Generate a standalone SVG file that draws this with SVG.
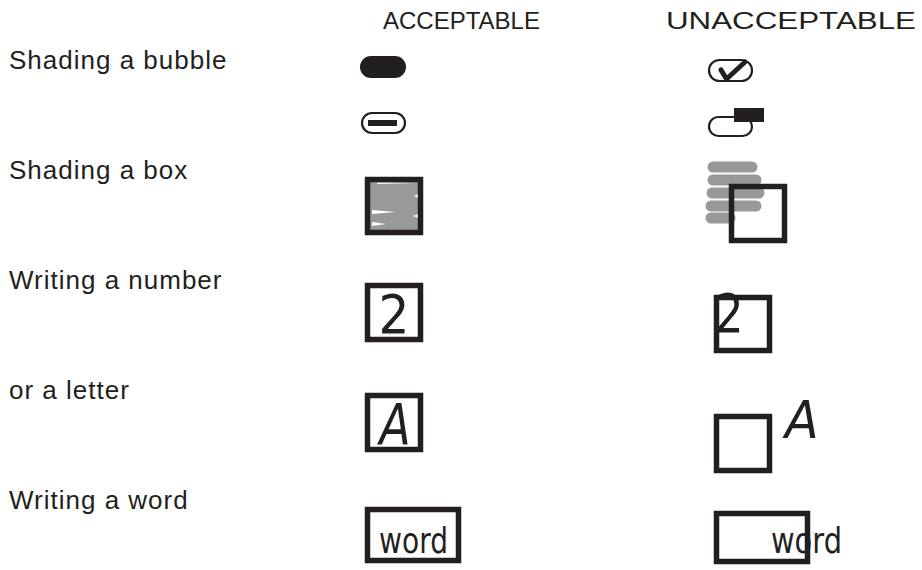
<svg xmlns="http://www.w3.org/2000/svg" width="922" height="570" viewBox="0 0 922 570">
<style>
.lbl{font-family:"Liberation Sans",Arial,sans-serif;font-size:26px;fill:#231f20;letter-spacing:1px}
.hdr{font-family:"Liberation Sans",Arial,sans-serif;font-size:24px;fill:#231f20}
.hand{font-family:"DejaVu Sans","Liberation Sans",sans-serif;fill:#231f20}
.box{fill:none;stroke:#231f20;stroke-width:5.5}
.bub{fill:#fff;stroke:#231f20;stroke-width:2.2}
.scrib{fill:none;stroke:#97999b;stroke-width:11;stroke-linecap:round}
</style>
<rect width="922" height="570" fill="#fff"/>
<g id="headers">
<text class="hdr" x="383" y="29">ACCEPTABLE</text>
<text class="hdr" x="666" y="29" textLength="250" lengthAdjust="spacingAndGlyphs">UNACCEPTABLE</text>
</g>
<g id="labels">
<text class="lbl" x="9" y="69">Shading a bubble</text>
<text class="lbl" x="9" y="179">Shading a box</text>
<text class="lbl" x="9" y="289">Writing a number</text>
<text class="lbl" x="9" y="399">or a letter</text>
<text class="lbl" x="9" y="509">Writing a word</text>
</g>
<g id="bubble-filled">
<rect x="360" y="56" width="46" height="22" rx="11" fill="#231f20"/>
</g>
<g id="bubble-dash">
<rect x="362" y="113" width="43" height="20" rx="10" class="bub"/>
<rect x="368" y="120" width="29" height="6" fill="#231f20"/>
</g>
<g id="bubble-check">
<rect x="709" y="60" width="43" height="21" rx="10.5" class="bub"/>
<path d="M721,70 L726.5,79 L745,62" fill="none" stroke="#231f20" stroke-width="5" stroke-linecap="round" stroke-linejoin="round"/>
</g>
<g id="bubble-mark">
<rect x="709" y="117" width="43" height="19" rx="9.5" class="bub"/>
<rect x="734" y="108" width="30" height="14" fill="#231f20"/>
</g>
<g id="box-shaded">
<rect x="368" y="180" width="52" height="52" fill="#97999b"/>
<path d="M372,210 L396,212 L372,214 Z M372,222 L386,224 L372,226 Z M377,182.5 L417,183 L377,184 Z M418,194 L414,196 L418,198 Z M418,214 L413,216 L418,218 Z" fill="#fff"/>
<rect x="367.5" y="179.5" width="53" height="53" class="box"/>
</g>
<g id="box-scribble">
<path class="scrib" d="M713,167 L752,167 M713,180 L756,180 M712,193 L759,193 M711,206 L756,206 M711,218 L730,218"/>
<rect x="731.5" y="186.5" width="53" height="54" class="box"/>
</g>
<g id="num-ok">
<rect x="367.5" y="285.5" width="53" height="54" class="box"/>
<text class="hand" font-size="54" text-anchor="middle" transform="translate(394,333) scale(0.9,1)">2</text>
</g>
<g id="num-bad">
<rect x="716.5" y="297.5" width="53" height="53" class="box"/>
<text class="hand" font-size="54" text-anchor="middle" transform="translate(729,332) scale(0.85,1)">2</text>
</g>
<g id="letter-ok">
<rect x="367.5" y="395.5" width="53" height="54" class="box"/>
<text class="hand" font-size="57" font-style="italic" text-anchor="middle" transform="translate(395,445) scale(0.8,1)">A</text>
</g>
<g id="letter-bad">
<rect x="716.5" y="416.5" width="53" height="54" class="box"/>
<text class="hand" font-size="52" font-style="italic" text-anchor="middle" transform="translate(802,438) scale(0.95,1)">A</text>
</g>
<g id="word-ok">
<rect x="367.5" y="509.5" width="91" height="51" class="box"/>
<text class="hand" font-size="36" x="379" y="553" textLength="69" lengthAdjust="spacingAndGlyphs">word</text>
</g>
<g id="word-bad">
<text class="hand" font-size="36" x="771" y="553" textLength="71" lengthAdjust="spacingAndGlyphs">word</text>
<rect x="716.5" y="513.5" width="91" height="48" class="box"/>
</g>
</svg>
